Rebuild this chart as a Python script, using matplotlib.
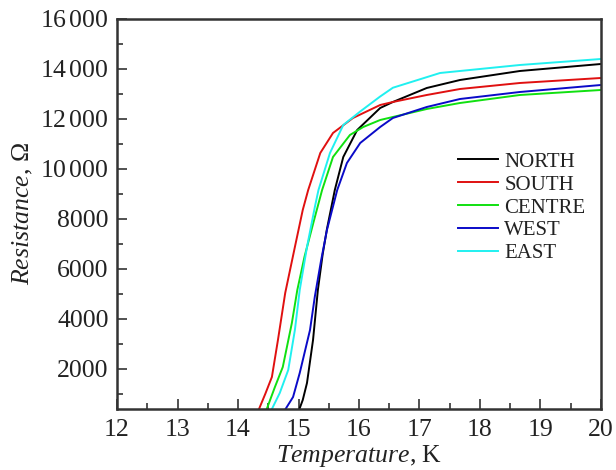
import matplotlib
matplotlib.use("Agg")
import matplotlib.pyplot as plt
from matplotlib.ticker import MultipleLocator, FuncFormatter

plt.rcParams['font.family'] = ['Liberation Serif', 'DejaVu Serif']
plt.rcParams['mathtext.fontset'] = 'custom'
plt.rcParams['mathtext.rm'] = 'Liberation Serif'
plt.rcParams['mathtext.it'] = 'Liberation Serif:italic'

# Data
north_T = [15.00, 15.07, 15.14, 15.24, 15.32, 15.40, 15.47, 15.60, 15.74, 15.97, 16.35, 16.56, 17.12, 17.67, 18.66, 20.0]
north_R = [300, 760, 1440, 3160, 5160, 6600, 7600, 9160, 10480, 11560, 12440, 12680, 13240, 13560, 13920, 14200]

south_T = [14.33, 14.45, 14.56, 14.66, 14.78, 14.94, 15.07, 15.16, 15.36, 15.57, 15.90, 16.35, 16.56, 17.12, 17.67, 18.66, 20.0]
south_R = [300, 1000, 1680, 3160, 5040, 6880, 8360, 9160, 10640, 11440, 12040, 12560, 12680, 12960, 13200, 13440, 13640]

centre_T = [14.46, 14.61, 14.74, 14.89, 14.98, 15.10, 15.24, 15.39, 15.57, 15.85, 16.07, 16.35, 16.56, 17.12, 17.67, 18.66, 20.0]
centre_R = [300, 1280, 2080, 3840, 5160, 6500, 7800, 9160, 10480, 11360, 11680, 11960, 12080, 12400, 12640, 12960, 13160]

west_T = [14.76, 14.91, 15.02, 15.19, 15.27, 15.37, 15.47, 15.64, 15.80, 16.02, 16.35, 16.56, 17.12, 17.67, 18.66, 20.0]
west_R = [300, 880, 1840, 3560, 4900, 6300, 7560, 9160, 10240, 11040, 11680, 12040, 12480, 12800, 13080, 13360]

east_T = [14.54, 14.69, 14.83, 14.94, 15.02, 15.14, 15.27, 15.33, 15.52, 15.74, 16.02, 16.35, 16.56, 17.34, 18.66, 20.0]
east_R = [300, 1040, 1960, 3560, 5160, 6880, 8480, 9160, 10640, 11760, 12300, 12900, 13250, 13840, 14160, 14400]

series = [
    ("NORTH", north_T, north_R, "#000000"),
    ("SOUTH", south_T, south_R, "#e01010"),
    ("CENTRE", centre_T, centre_R, "#10e010"),
    ("WEST", west_T, west_R, "#0a0ac8"),
    ("EAST", east_T, east_R, "#20f0f0"),
]

fig = plt.figure(figsize=(6.16, 4.70), dpi=100)
ax = fig.add_axes([0.19, 0.1298, 0.7856, 0.8298])

for name, T, R, c in series:
    ax.plot(T, R, color=c, lw=1.4, label=name)

ax.set_xlim(12, 20)
ax.set_ylim(400, 16000)
ax.xaxis.set_major_locator(MultipleLocator(1))
ax.xaxis.set_minor_locator(MultipleLocator(0.5))
ax.yaxis.set_major_locator(MultipleLocator(2000))
ax.yaxis.set_minor_locator(MultipleLocator(1000))

def yfmt(v, pos):
    v = int(round(v))
    if v >= 10000:
        return f"${v // 1000}\\,{v % 1000:03d}$"
    return f"{v}"

ax.yaxis.set_major_formatter(FuncFormatter(yfmt))

ax.tick_params(which='both', direction='in', top=False, right=False, colors='#333333',
               labelcolor='#222222', labelsize=18.5, width=1.2)
ax.tick_params(which='major', length=7)
ax.tick_params(which='minor', length=4)
ax.tick_params(axis='x', pad=7)
ax.tick_params(axis='y', pad=6)
for s in ax.spines.values():
    s.set_linewidth(1.8)
    s.set_color('#333333')

ax.set_xlabel(r"$\it{Temperature}$, K", fontsize=18.5, color='#222222', labelpad=2)
ax.set_ylabel(r"$\it{Resistance}$, Ω", fontsize=18.5, color='#222222', labelpad=4)

leg = ax.legend(loc='upper left', bbox_to_anchor=(0.688, 0.68), frameon=False,
                fontsize=15, handlelength=1.9, handletextpad=0.3, labelspacing=0.16,
                borderaxespad=0)
for t in leg.get_texts():
    t.set_color('#222222')

fig.savefig("out.png", dpi=100)
